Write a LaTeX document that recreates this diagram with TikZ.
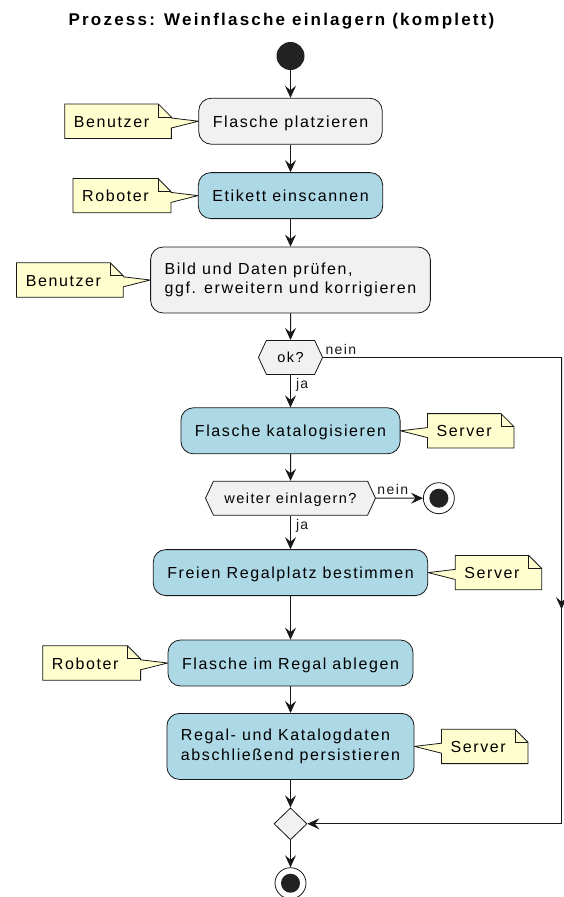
\documentclass[tikz,border=0pt]{standalone}
\usepackage{fontspec}
\setmainfont{Liberation Sans}[LetterSpace=10]
\newfontfamily\titlefont{Liberation Sans}[LetterSpace=13]
\usepackage{tikz}
\usetikzlibrary{arrows.meta,positioning,calc,shapes.geometric,shapes.symbols,backgrounds}
\definecolor{ink}{HTML}{181818}
\definecolor{dot}{HTML}{222222}
\definecolor{actgray}{HTML}{F1F1F1}
\definecolor{actblue}{HTML}{ADD8E6}
\definecolor{notefill}{HTML}{FEFECE}
% note outline with fold, callout on the right / on the left
\newcommand{\leftnote}[2]{%
  \draw[notebox] (#1.north west) -- (#1.north east) -- ([shift={(13,-13)}]#1.north east)
    -- ([shift={(13,-14)}]#1.north east) -- (#2.west) -- ([shift={(13,-24)}]#1.north east)
    -- ([xshift=13pt]#1.south east) -- (#1.south west) -- cycle;
  \draw[foldline] (#1.north east) -- ++(0,-13) -- ++(13,0);}
\newcommand{\rightnote}[2]{%
  \draw[notebox] (#1.north west) -- (#1.north east) -- ([shift={(13,-13)}]#1.north east)
    -- ([xshift=13pt]#1.south east) -- (#1.south west) -- ([yshift=-24pt]#1.north west)
    -- (#2.east) -- ([yshift=-14pt]#1.north west) -- cycle;
  \draw[foldline] (#1.north east) -- ++(0,-13) -- ++(13,0);}

\begin{document}
\begin{tikzpicture}[x=1pt,y=1pt,
node distance=27.6pt and 27pt,
blk/.style={draw=ink,line width=0.8pt,rounded corners=12.5pt,inner xsep=14pt,inner ysep=4pt,minimum height=46pt,font=\fontsize{16}{19.2}\selectfont},
one/.style={text height=12pt,text depth=0pt},
two/.style={align=left,minimum height=66pt},
gray/.style={blk,fill=actgray},
blue/.style={blk,fill=actblue},
dec/.style={signal,signal to=east and west,signal pointer angle=130,draw=ink,line width=0.8pt,fill=actgray,inner xsep=11pt,inner ysep=4pt,minimum height=34pt,text height=10pt,text depth=0pt,font=\fontsize{14.5}{16}\selectfont},
mrg/.style={diamond,draw=ink,line width=0.8pt,fill=actgray,minimum width=33pt,minimum height=32pt,inner sep=0pt},
startdot/.style={circle,fill=dot,minimum size=28pt,inner sep=0pt},
stopdot/.style={circle,draw=ink,line width=0.8pt,fill=white,minimum size=31pt,inner sep=0pt,
  path picture={\fill[dot] (path picture bounding box.center) circle (9.5pt);}},
note/.style={inner xsep=9pt,inner ysep=0pt,minimum height=34pt,text height=12pt,text depth=0pt,font=\fontsize{16}{19.2}\selectfont},
notebox/.style={draw=ink,line width=0.8pt,fill=notefill},
foldline/.style={draw=ink,line width=0.8pt},
lbl/.style={font=\fontsize{14}{16}\selectfont,inner sep=0pt},
arr/.style={-{Stealth[length=12pt,width=11pt,inset=4.5pt]},line width=1pt,ink},
line/.style={line width=1pt,ink}
]
\useasboundingbox (0,0) rectangle (563,-897);
\node[anchor=base,font={\titlefont\bfseries\fontsize{17}{20}\selectfont}] (title) at (281.5,-25) {Prozess: Weinflasche einlagern (komplett)};
\node[startdot] (start) at (290.5,-56) {};
\node[gray,one,below=of start] (place) {Flasche platzieren};
\node[blue,one,below=of place] (scan) {Etikett einscannen};
\node[gray,two,below=of scan] (check) {Bild und Daten prüfen,\\ggf. erweitern und korrigieren};
\node[dec,below=26.6pt of check] (ok) {ok?};
\node[blue,one,below=32.6pt of ok] (catalog) {Flasche katalogisieren};
\node[dec,below=26.6pt of catalog] (more) {weiter einlagern?};
\node[stopdot,right=47pt of more] (stopA) {};
\node[blue,one,below=33.6pt of more] (slot) {Freien Regalplatz bestimmen};
\node[blue,one,below=43.6pt of slot] (store) {Flasche im Regal ablegen};
\node[blue,two,below=26.6pt of store] (persist) {Regal- und Katalogdaten\\abschließend persistieren};
\node[mrg,below=of persist] (merge) {};
\node[stopdot,below=27.1pt of merge] (stopB) {};
\coordinate (rx) at (561.5,0);

\node[note,left=40pt of place] (n1) {Benutzer};
\node[note,left=40pt of scan] (n2) {Roboter};
\node[note,left=40pt of check] (n3) {Benutzer};
\node[note,right=of catalog] (n4) {Server};
\node[note,right=of slot] (n5) {Server};
\node[note,left=40pt of store] (n6) {Roboter};
\node[note,right=of persist] (n7) {Server};
\begin{scope}[on background layer]
\leftnote{n1}{place}
\leftnote{n2}{scan}
\leftnote{n3}{check}
\rightnote{n4}{catalog}
\rightnote{n5}{slot}
\leftnote{n6}{store}
\rightnote{n7}{persist}
\end{scope}

\draw[arr] (start) -- (place);
\draw[arr] (place) -- (scan);
\draw[arr] (scan) -- (check);
\draw[arr] (check) -- (ok);
\draw[arr] (ok) -- node[lbl,pos=0,anchor=base west,xshift=5pt,yshift=-13.5pt] {ja} (catalog);
\draw[arr] (catalog) -- (more);
\draw[arr] (more) -- node[lbl,pos=0,anchor=base west,xshift=1pt,yshift=4pt] {nein} (stopA);
\draw[arr] (more) -- node[lbl,pos=0,anchor=base west,xshift=5pt,yshift=-13.5pt] {ja} (slot);
\draw[arr] (slot) -- (store);
\draw[arr] (store) -- (persist);
\draw[arr] (persist) -- (merge);
\draw[arr] (merge) -- (stopB);
\draw[line] (ok.east) -- node[lbl,pos=0,anchor=base west,xshift=2pt,yshift=3pt] {nein} (ok.east -| rx) -- (merge.east -| rx);
\draw[arr] (ok.east -| rx) -- ($(ok.east -| rx)!0.54!(merge.east -| rx)$);
\draw[arr] (merge.east -| rx) -- (merge.east);
\end{tikzpicture}
\end{document}
